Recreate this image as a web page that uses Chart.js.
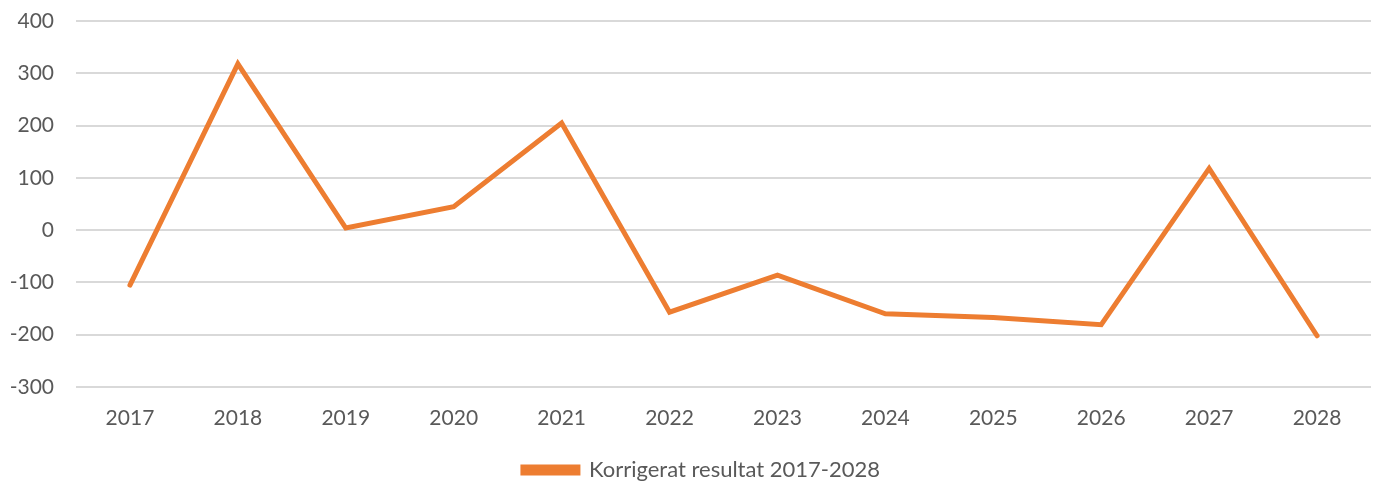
<!DOCTYPE html>
<html>
<head>
<meta charset="utf-8">
<script src="https://cdn.jsdelivr.net/npm/chart.js@4"></script>
<style>
html,body{margin:0;padding:0;background:#fff;}
#wrap{width:1373px;height:482px;position:relative;}
</style>
</head>
<body>
<div id="wrap"><canvas id="c" width="1373" height="482"></canvas></div>
<script>
const categories = ['2017','2018','2019','2020','2021','2022','2023','2024','2025','2026','2027','2028'];
const seriesName = 'Korrigerat resultat 2017-2028';
const seriesValues = [-105, 318, 4, 45, 205, -157, -86, -160, -167, -181, 118, -202];
const yTicks = [-300, -200, -100, 0, 100, 200, 300, 400];

const orange = '#ED7D31';
const textColor = '#595959';
const fontFamily = 'Lato, "Open Sans", sans-serif';

const legendShift = {
  id: 'legendShift',
  afterLayout(chart) {
    if (chart.legend) { chart.legend.left += 16; chart.legend.right += 16; }
  }
};

new Chart(document.getElementById('c'), {
  type: 'line',
  data: {
    labels: categories,
    datasets: [{
      label: seriesName,
      data: seriesValues,
      borderColor: orange,
      backgroundColor: orange,
      borderWidth: 5,
      pointRadius: 0,
      pointHoverRadius: 0,
      tension: 0,
      borderCapStyle: 'round',
      borderJoinStyle: 'miter'
    }]
  },
  plugins: [legendShift],
  options: {
    responsive: false,
    animation: false,
    layout: { padding: { top: 21, right: 2, left: 0, bottom: -9 } },
    plugins: {
      tooltip: { enabled: false },
      legend: {
        position: 'bottom',
        labels: {
          color: textColor,
          font: { family: fontFamily, size: 22 },
          boxWidth: 55,
          boxHeight: 6,
          padding: 2
        }
      }
    },
    scales: {
      x: {
        offset: true,
        grid: { display: false, drawTicks: false },
        border: { display: false },
        ticks: { color: textColor, font: { family: fontFamily, size: 21 }, padding: 19, maxRotation: 0 },
        afterFit(s) { s.height = 70; }
      },
      y: {
        min: -300,
        max: 400,
        afterBuildTicks(s) { s.ticks = yTicks.map(v => ({ value: v })); },
        grid: { color: '#d9d9d9', lineWidth: 2, drawTicks: false },
        border: { display: false },
        ticks: { color: textColor, font: { family: fontFamily, size: 21 }, padding: 22 },
        afterFit(s) { s.width = 76; s.paddingTop = 0; s.paddingBottom = 0; }
      }
    }
  }
});
</script>
</body>
</html>
